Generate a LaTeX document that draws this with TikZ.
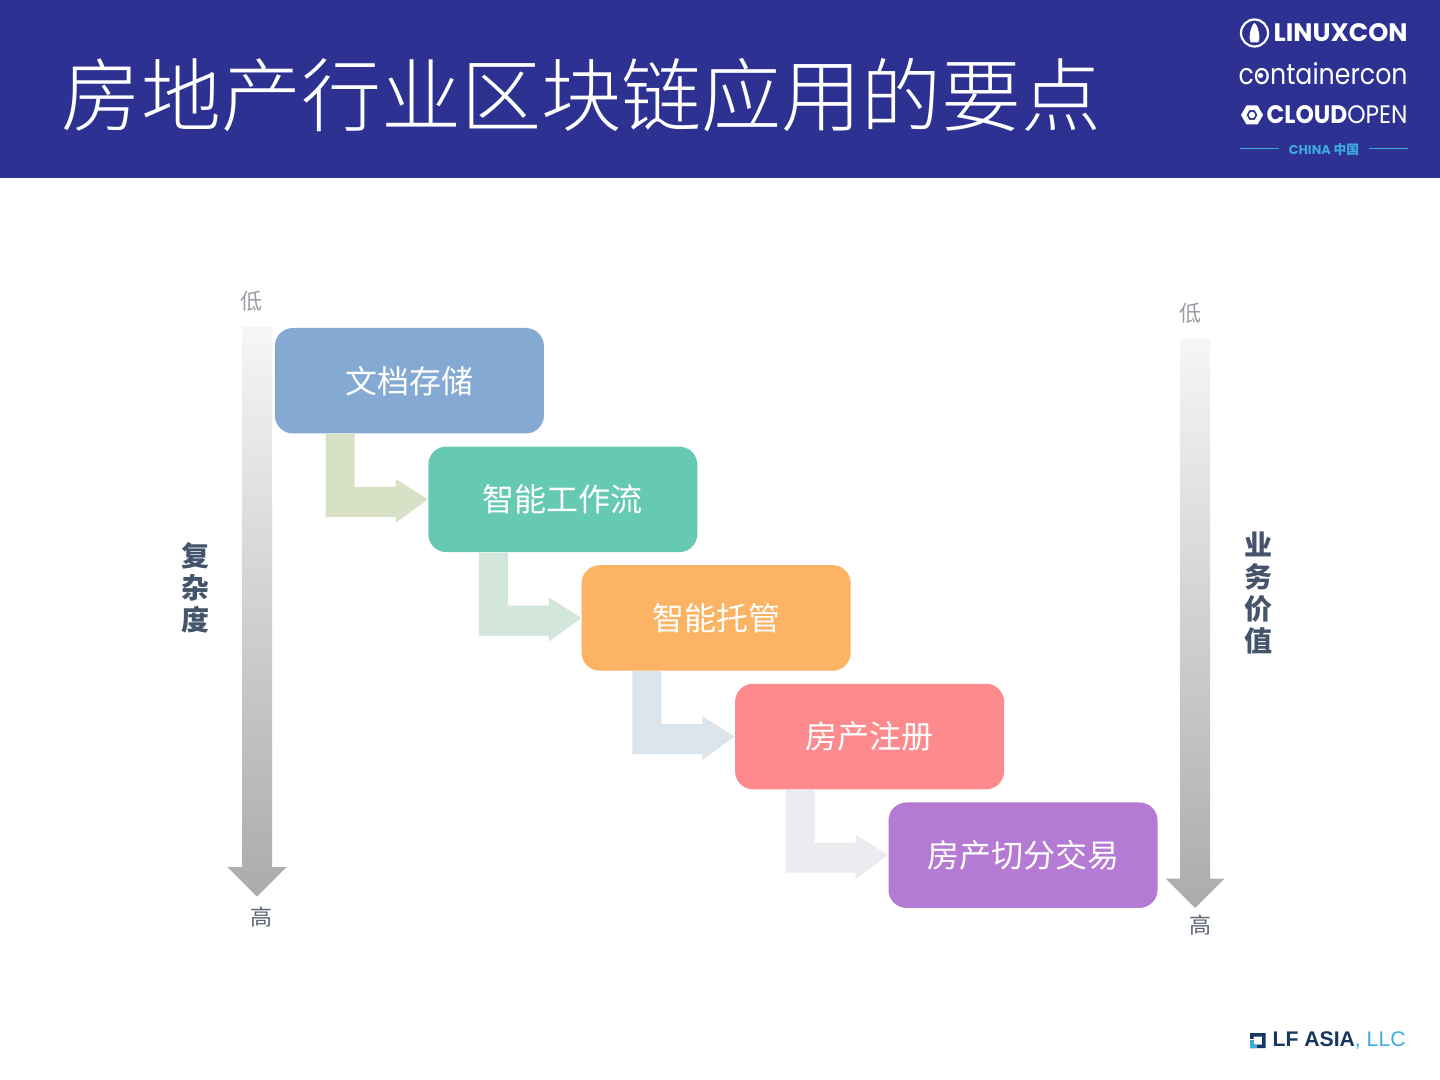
\documentclass[tikz,border=0pt]{standalone}
\usepackage{fontspec}
\usepackage{graphicx}
\usetikzlibrary{calc,positioning}
\setmainfont{Noto Sans CJK SC}
\newfontfamily\cjklight[UprightFont=* Light,BoldFont=* Light]{Noto Sans CJK SC}
\newfontfamily\logofont{Poppins}
\newfontfamily\lffont{Liberation Sans}
\definecolor{banner}{HTML}{2C3192}
\definecolor{boxA}{HTML}{84A9D2}
\definecolor{boxB}{HTML}{66C9B4}
\definecolor{boxC}{HTML}{FCB363}
\definecolor{boxD}{HTML}{FD8B8E}
\definecolor{boxE}{HTML}{B57BD4}
\definecolor{arrA}{HTML}{D8E0C5}
\definecolor{arrB}{HTML}{D2E6DC}
\definecolor{arrC}{HTML}{DDE5EC}
\definecolor{arrD}{HTML}{ECECF0}
\definecolor{slate}{HTML}{44546A}
\definecolor{lownote}{HTML}{999EA5}
\definecolor{highnote}{HTML}{5A6472}
\definecolor{skyblue}{HTML}{3FA9E0}
\definecolor{navy}{HTML}{17375E}
\definecolor{gradtop}{HTML}{F6F6F6}
\definecolor{gradmid}{HTML}{DCDCDC}
\definecolor{gradbot}{HTML}{ABABAB}
\tikzset{
  stagebox/.style={draw=none,fill=#1,rounded corners=9pt,minimum width=134.5pt,minimum height=52.75pt,inner sep=0pt,text=white,font=\fontsize{16}{16}\selectfont},
  axisnote/.style={inner sep=0pt,font=\fontsize{11}{11}\selectfont},
  axistitle/.style={inner sep=0pt,text=slate,align=center,font=\fontsize{14}{16}\bfseries\selectfont},
  logotext/.style={inner sep=0pt,text=white,anchor=east},
}
\newcommand{\stagearrow}[3]{%
  \fill[#3] ($(#1.south west)+(51,0)$) -- ($(#1.south west)+(80,0)$)
    -- ($(#1.south west)+(80,53)$) -- ($(#1.south west)+(121,53)$)
    -- ($(#1.south west)+(121,45)$) -- (#2.west)
    -- ($(#1.south west)+(121,89)$) -- ($(#1.south west)+(121,83)$)
    -- ($(#1.south west)+(51,83)$) -- cycle;}
\newcommand{\gradarrow}[2]{%
  \shade[top color=gradtop,middle color=gradmid,bottom color=gradbot] (#1-15,#2) -- (#1+15,#2) -- (#1+15,#2+540)
    -- (#1+29.5,#2+540) -- (#1,#2+569.5) -- (#1-29.5,#2+540) -- (#1-15,#2+540) -- cycle;}
\begin{document}
\begin{tikzpicture}[x=0.5pt,y=-0.5pt]
\useasboundingbox (0,0) rectangle (1440,1080);
\fill[white] (0,0) rectangle (1440,1080);
\fill[banner] (0,0) rectangle (1440,178);
\node[anchor=west,inner sep=0pt,text=white,font=\cjklight\fontsize{40}{44}\selectfont] (title) at (61,95) {房地产行业区块链应用的要点};

% logos
\node[circle,draw=white,line width=1.1pt,minimum size=13.5pt,inner sep=0pt] (penguin) at (1254.5,33) {};
\fill[white] ($(penguin)+(0,-10)$) .. controls ($(penguin)+(4,-8)$) and ($(penguin)+(6.5,7)$) .. ($(penguin)+(3.5,9.5)$) -- ($(penguin)+(-3.5,9.5)$) .. controls ($(penguin)+(-6.5,7)$) and ($(penguin)+(-4,-8)$) .. ($(penguin)+(0,-10)$) -- cycle;
\node[logotext] (linuxcon) at (1408,33) {\resizebox{67pt}{9pt}{\logofont\bfseries LINUXCON}};
\node[logotext,anchor=south east] (container) at (1408,85.5) {\resizebox{84.5pt}{11pt}{\logofont containercon}};
\fill[white] (1260.5,75.5) circle[radius=2.6];
\fill[white,even odd rule] (1241,115) -- (1246.5,105.5) -- (1257.5,105.5) -- (1263,115) -- (1257.5,124.5) -- (1246.5,124.5) -- cycle
  (1246.5,115) -- (1249.2,110.2) -- (1254.8,110.2) -- (1257.5,115) -- (1254.8,119.8) -- (1249.2,119.8) -- cycle;
\fill[white] (1252,115) circle[radius=3.2];
\node[logotext] (cloudopen) at (1408,115) {\resizebox{70.5pt}{9pt}{\logofont\bfseries CLOUD\mdseries OPEN}};
\node[inner sep=0pt,text=skyblue,font=\logofont\bfseries\fontsize{6.4}{7}\selectfont] (china) at (1324,150) {CHINA \fontspec{Noto Sans CJK SC}中国};
\coordinate (lineA) at (1240,149);
\coordinate (lineB) at (1408,149);
\draw[skyblue,line width=0.5pt] (lineA) -- (1279,149);
\draw[skyblue,line width=0.5pt] (1369,149) -- (lineB);
% LF mark
\fill[navy,even odd rule] (1250,1033) rectangle (1265.5,1048) (1253.5,1036.5) rectangle (1262,1044.5);
\fill[white] (1249,1038.5) rectangle (1254,1040);
\fill[skyblue] (1250,1040) rectangle (1253.5,1048) (1250,1044.5) rectangle (1257,1048);
\node[inner sep=0pt,anchor=east] (lfasia) at (1406,1040) {\resizebox{66.5pt}{!}{\lffont\textcolor{navy}{\bfseries LF ASIA}\textcolor{skyblue}{, LLC}}};

% gradient axes
\gradarrow{257}{327}
\gradarrow{1195}{338.5}
\node[axisnote,text=lownote] (lowL) at (251,301) {低};
\node[axisnote,text=highnote] (highL) at (261,917) {高};
\node[axisnote,text=lownote] (lowR) at (1190,313) {低};
\node[axisnote,text=highnote] (highR) at (1200,925) {高};
\node[axistitle] (complexity) at (195,588) {复\\杂\\度};
\node[axistitle] (value) at (1258,593) {业\\务\\价\\值};

% stages
\node[stagebox=boxA,anchor=north west] (s1) at (274.5,327.6) {文档存储};
\node[stagebox=boxB,anchor=north west] (s2) at (427.9,446.2) {智能工作流};
\node[stagebox=boxC,anchor=north west] (s3) at (581.3,564.8) {智能托管};
\node[stagebox=boxD,anchor=north west] (s4) at (734.7,683.4) {房产注册};
\node[stagebox=boxE,anchor=north west] (s5) at (888.1,802) {房产切分交易};
\stagearrow{s1}{s2}{arrA}
\stagearrow{s2}{s3}{arrB}
\stagearrow{s3}{s4}{arrC}
\stagearrow{s4}{s5}{arrD}
\end{tikzpicture}
\end{document}
